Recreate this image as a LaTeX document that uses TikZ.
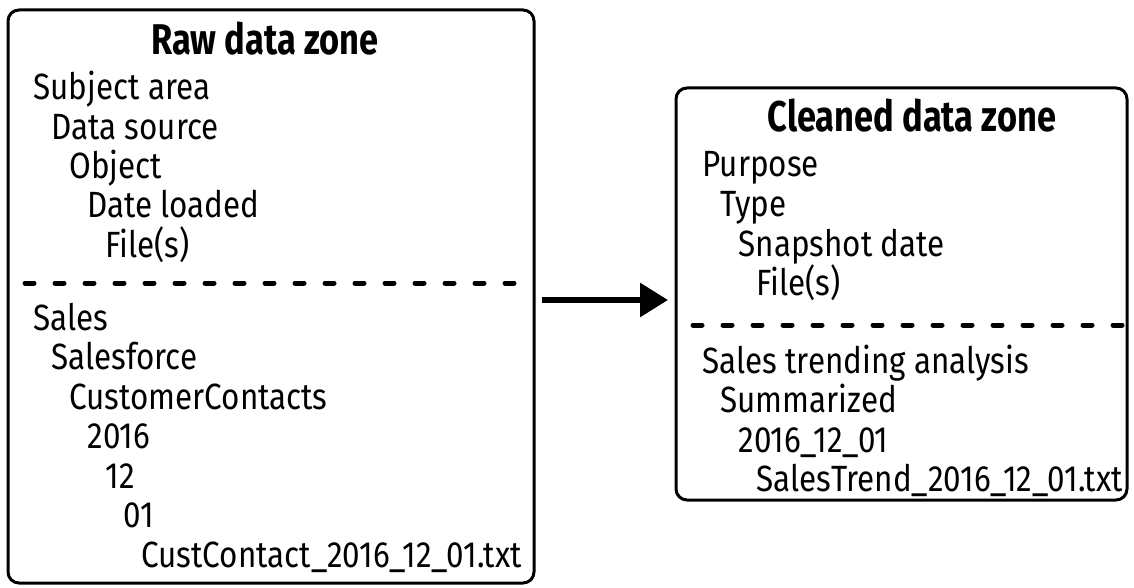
\documentclass[tikz,border=0pt]{standalone}
\usepackage{fontspec}
\setmainfont[FakeStretch=0.86]{Fira Sans}
\newfontfamily\zonefont[FakeStretch=0.8]{Fira Sans}
\usetikzlibrary{arrows.meta}

\begin{document}
\begin{tikzpicture}[x=1pt,y=-1pt,>={Triangle[length=28pt,width=33pt]},line width=3pt]
\tikzstyle{zone}=[draw=black,rounded corners=11pt,inner sep=0pt,outer sep=0pt]
\tikzstyle{title}=[font=\fontsize{43}{46}\zonefont\bfseries,anchor=base,inner sep=0pt]
\tikzstyle{entry}=[font=\fontsize{36.5}{39}\selectfont,anchor=base west,inner sep=0pt]
\tikzstyle{divider}=[line width=5pt,line cap=round,dash pattern=on 9pt off 21pt]
\useasboundingbox (0,0) rectangle (1134,588);
% the two zones
\node[zone,minimum width=526pt,minimum height=573pt] (raw) at (271,296.5) {};
\node[zone,minimum width=451pt,minimum height=412pt] (clean) at (901.5,294) {};
\node[title] (rawtitle) at (265,55) {Raw data zone};
\node[title] (cleantitle) at (912,132) {Cleaned data zone};
% raw zone: layout and example
\foreach \txt [count=\i] in {Subject area,Data source,Object,Date loaded,File(s)}
  \node[entry] (rawlevel\i) at (32+18*\i-18,100+39.3*\i-39.3) {\txt};
\draw[divider] (25,283) -- (521,283);
\foreach \txt [count=\i] in {Sales,Salesforce,CustomerContacts,2016,12,01,CustContact\_2016\_12\_01.txt}
  \node[entry] (rawpath\i) at (32+18*\i-18,330+39.5*\i-39.5) {\txt};
% cleaned zone: layout and example
\foreach \txt [count=\i] in {Purpose,Type,Snapshot date,File(s)}
  \node[entry] (cleanlevel\i) at (701+18*\i-18,177+39.5*\i-39.5) {\txt};
\draw[divider] (693,325) -- (1122,325);
\foreach \txt [count=\i] in {Sales trending analysis,Summarized,2016\_12\_01,SalesTrend\_2016\_12\_01.txt}
  \node[entry] (cleanpath\i) at (701+18*\i-18,373+39.5*\i-39.5) {\txt};
% raw -> cleaned
\draw[->,line width=6pt,shorten <=8pt,shorten >=8pt] ([yshift=-3.5pt]raw.east) -- ([yshift=-3.5pt]raw.east -| clean.west);
\end{tikzpicture}
\end{document}
